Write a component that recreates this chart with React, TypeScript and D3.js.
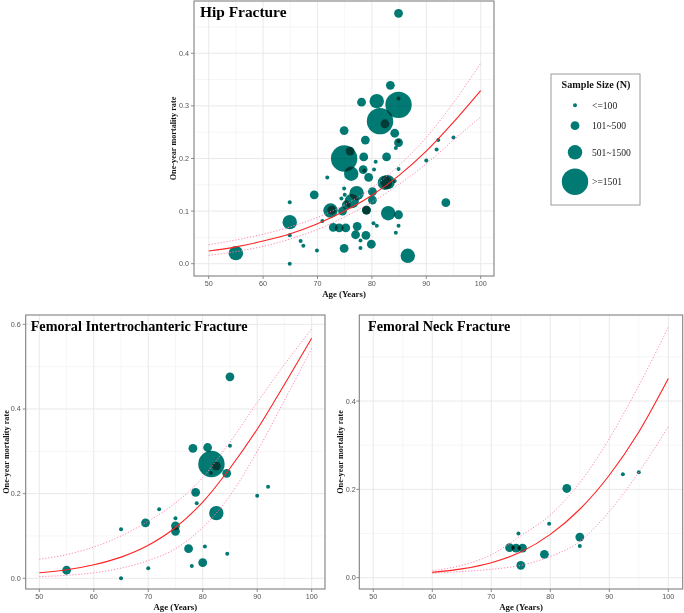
import React from 'react';
import * as d3 from 'd3';

// ---------- data ----------
const sizeClasses = ['<=100', '101~500', '501~1500', '>=1501'];

// [age, one-year mortality rate, sample-size class index]
const hipPoints: [number, number, number][] = [
  [55.0, 0.020, 2], [64.9, 0.079, 2], [64.9, 0.117, 0], [64.9, 0.054, 0], [64.9, 0.000, 0],
  [66.9, 0.043, 0], [67.4, 0.034, 0], [69.9, 0.025, 0], [69.4, 0.131, 1], [70.9, 0.081, 0],
  [71.8, 0.164, 0], [72.4, 0.101, 2], [72.6, 0.102, 1], [74.9, 0.200, 3], [76.0, 0.214, 1],
  [76.2, 0.171, 2], [74.9, 0.143, 0], [74.4, 0.124, 0], [75.0, 0.131, 0], [74.6, 0.100, 1],
  [75.3, 0.112, 1], [72.9, 0.069, 1], [74.0, 0.068, 1], [75.2, 0.068, 1], [74.9, 0.029, 1],
  [76.3, 0.119, 2], [77.2, 0.134, 2], [77.3, 0.071, 1], [77.0, 0.055, 1], [77.9, 0.044, 0],
  [77.9, 0.030, 0], [78.9, 0.054, 1], [79.9, 0.037, 1], [79.0, 0.102, 1], [79.0, 0.102, 1],
  [80.3, 0.077, 0], [80.9, 0.072, 0], [83.0, 0.096, 2], [84.9, 0.093, 1], [84.9, 0.072, 0],
  [84.4, 0.059, 0], [86.6, 0.015, 2], [80.1, 0.137, 1], [80.1, 0.121, 1], [82.4, 0.154, 2],
  [82.9, 0.155, 2], [84.2, 0.157, 0], [79.4, 0.164, 1], [78.4, 0.179, 1], [78.6, 0.177, 0],
  [80.4, 0.179, 0], [84.9, 0.180, 0], [80.7, 0.194, 0], [78.5, 0.203, 1], [82.7, 0.203, 1],
  [90.0, 0.196, 0], [91.9, 0.217, 0], [92.2, 0.235, 0], [95.0, 0.240, 0], [93.6, 0.116, 1],
  [84.4, 0.220, 0], [84.9, 0.230, 1], [84.9, 0.233, 0], [78.8, 0.235, 1], [84.2, 0.248, 1],
  [74.9, 0.253, 1], [81.5, 0.271, 3], [82.4, 0.266, 1], [84.9, 0.302, 3], [84.9, 0.314, 0],
  [78.1, 0.307, 1], [80.9, 0.309, 2], [83.4, 0.339, 1], [84.9, 0.476, 1],
];

const itPoints: [number, number, number][] = [
  [55.0, 0.019, 1], [65.0, 0.116, 0], [65.0, 0.000, 0], [69.5, 0.131, 1], [70.0, 0.024, 0],
  [72.0, 0.163, 0], [75.0, 0.142, 0], [75.0, 0.124, 1], [75.0, 0.111, 1], [77.4, 0.070, 1],
  [78.0, 0.029, 0], [78.2, 0.307, 1], [78.7, 0.203, 1], [78.9, 0.177, 0], [80.0, 0.037, 1],
  [80.4, 0.075, 0], [80.9, 0.309, 1], [81.6, 0.270, 3], [82.5, 0.265, 1], [81.5, 0.249, 0],
  [82.5, 0.154, 2], [84.4, 0.248, 1], [84.5, 0.058, 0], [85.0, 0.476, 1], [85.0, 0.313, 0],
  [90.0, 0.195, 0], [92.0, 0.216, 0],
];

const neckPoints: [number, number, number][] = [
  [73.1, 0.068, 1], [74.2, 0.067, 1], [75.3, 0.067, 1], [73.7, 0.068, 0], [74.7, 0.067, 0],
  [74.6, 0.100, 0], [75.0, 0.028, 1], [79.0, 0.053, 1], [79.8, 0.122, 0], [82.8, 0.202, 1],
  [85.0, 0.092, 1], [85.0, 0.072, 0], [92.3, 0.234, 0], [95.0, 0.239, 0],
];

// fitted curve and confidence band
const hipCurveAge = [50, 55, 60, 65, 70, 75, 80, 85, 90, 95, 100];
const hipFit = [0.024, 0.032, 0.043, 0.057, 0.076, 0.100, 0.130, 0.168, 0.214, 0.269, 0.329];
const hipUpper = [0.036, 0.045, 0.056, 0.070, 0.088, 0.112, 0.144, 0.187, 0.240, 0.306, 0.381];
const hipLower = [0.016, 0.023, 0.033, 0.047, 0.065, 0.089, 0.117, 0.151, 0.190, 0.235, 0.279];

const itCurveAge = [50, 55, 60, 65, 70, 75, 80, 85, 90, 95, 100];
const itFit = [0.013, 0.020, 0.032, 0.050, 0.078, 0.120, 0.180, 0.260, 0.352, 0.458, 0.567];
const itUpper = [0.045, 0.056, 0.074, 0.100, 0.135, 0.178, 0.238, 0.322, 0.415, 0.505, 0.589];
const itLower = [0.004, 0.007, 0.013, 0.024, 0.042, 0.070, 0.120, 0.195, 0.300, 0.420, 0.543];

const neckCurveAge = [60, 65, 70, 75, 80, 85, 90, 95, 100];
const neckFit = [0.012, 0.020, 0.034, 0.058, 0.098, 0.155, 0.232, 0.330, 0.451];
const neckUpper = [0.016, 0.028, 0.052, 0.095, 0.142, 0.215, 0.315, 0.435, 0.567];
const neckLower = [0.010, 0.014, 0.019, 0.028, 0.048, 0.082, 0.150, 0.239, 0.342];

const xTicks = [50, 60, 70, 80, 90, 100];
const xMinor = [55, 65, 75, 85, 95];
const hipYTicks = [0, 0.1, 0.2, 0.3, 0.4];
const hipYMinor = [0.05, 0.15, 0.25, 0.35, 0.45];
const itYTicks = [0, 0.2, 0.4, 0.6];
const itYMinor = [0.1, 0.3, 0.5];
const neckYTicks = [0, 0.2, 0.4];
const neckYMinor = [0.1, 0.3, 0.5];

// ---------- styling ----------
const TEAL = '#027a74';
const SERIF = '"Liberation Serif", "Times New Roman", serif';
const SANS = '"Liberation Sans", Arial, sans-serif';
const radius = d3.scaleOrdinal<string, number>().domain(sizeClasses).range([2, 4.4, 7.2, 13.2]);

type Box = { x0: number; x1: number; y0: number; y1: number };

function Panel(props: {
  box: Box;
  xDomain: [number, number];
  yDomain: [number, number];
  yTicks: number[];
  yMinor: number[];
  points: [number, number, number][];
  curveAge: number[];
  fit: number[];
  upper: number[];
  lower: number[];
  title: string;
  titleDx: number;
  titleSize: number;
  yLabelDx: number;
  tickGap: number;
}) {
  const { box, xDomain, yDomain, yTicks, yMinor, points, curveAge, fit, upper, lower } = props;
  const x = d3.scaleLinear().domain(xDomain).range([box.x0, box.x1]);
  const y = d3.scaleLinear().domain(yDomain).range([box.y1, box.y0]);
  const line = d3
    .line<number>()
    .x((_, i) => x(curveAge[i]))
    .y((d) => y(d))
    .curve(d3.curveMonotoneX);
  const fmt = d3.format('.1f');
  const cx = (box.x0 + box.x1) / 2;
  const cy = (box.y0 + box.y1) / 2;
  return (
    <g>
      <rect x={box.x0} y={box.y0} width={box.x1 - box.x0} height={box.y1 - box.y0} fill="#fff" />
      {yMinor.filter((v) => v > yDomain[0] && v < yDomain[1]).map((v) => (
        <line key={'ym' + v} x1={box.x0} x2={box.x1} y1={y(v)} y2={y(v)} stroke="#f0f0f0" strokeWidth={0.6} />
      ))}
      {xMinor.map((v) => (
        <line key={'xm' + v} y1={box.y0} y2={box.y1} x1={x(v)} x2={x(v)} stroke="#f0f0f0" strokeWidth={0.6} />
      ))}
      {yTicks.map((v) => (
        <line key={'yg' + v} x1={box.x0} x2={box.x1} y1={y(v)} y2={y(v)} stroke="#e6e6e6" strokeWidth={0.9} />
      ))}
      {xTicks.map((v) => (
        <line key={'xg' + v} y1={box.y0} y2={box.y1} x1={x(v)} x2={x(v)} stroke="#e6e6e6" strokeWidth={0.9} />
      ))}
      {points.map((p, i) => (
        <circle
          key={'p' + i}
          cx={x(p[0])}
          cy={y(p[1])}
          r={radius(sizeClasses[p[2]])}
          fill={TEAL}
          style={{ mixBlendMode: 'multiply' }}
        />
      ))}
      <path d={line(upper) || ''} fill="none" stroke="#ff86b0" strokeWidth={1} strokeDasharray="1.2 1.8" />
      <path d={line(lower) || ''} fill="none" stroke="#ff86b0" strokeWidth={1} strokeDasharray="1.2 1.8" />
      <path d={line(fit) || ''} fill="none" stroke="#ff2222" strokeWidth={1.1} />
      <rect
        x={box.x0}
        y={box.y0}
        width={box.x1 - box.x0}
        height={box.y1 - box.y0}
        fill="none"
        stroke="#808080"
        strokeWidth={1.1}
      />
      {yTicks.map((v) => (
        <g key={'yt' + v}>
          <line x1={box.x0 - 3} x2={box.x0} y1={y(v)} y2={y(v)} stroke="#808080" strokeWidth={0.9} />
          <text
            x={box.x0 - props.tickGap}
            y={y(v)}
            textAnchor="end"
            dominantBaseline="central"
            fontFamily={SANS}
            fontSize={7.2}
            fill="#555"
          >
            {fmt(v)}
          </text>
        </g>
      ))}
      {xTicks.map((v) => (
        <g key={'xt' + v}>
          <line y1={box.y1} y2={box.y1 + 3} x1={x(v)} x2={x(v)} stroke="#808080" strokeWidth={0.9} />
          <text
            x={x(v)}
            y={box.y1 + 7.5}
            textAnchor="middle"
            dominantBaseline="central"
            fontFamily={SANS}
            fontSize={7.2}
            fill="#555"
          >
            {v}
          </text>
        </g>
      ))}
      <text
        x={cx}
        y={box.y1 + 17.5}
        textAnchor="middle"
        dominantBaseline="central"
        fontFamily={SERIF}
        fontWeight="bold"
        fontSize={8.8}
        fill="#111"
      >
        Age (Years)
      </text>
      <text
        transform={`translate(${box.x0 + props.yLabelDx},${cy}) rotate(-90)`}
        textAnchor="middle"
        dominantBaseline="central"
        fontFamily={SERIF}
        fontWeight="bold"
        fontSize={8.2}
        fill="#111"
      >
        One-year mortality rate
      </text>
      <text
        x={box.x0 + props.titleDx}
        y={box.y0 + 16}
        fontFamily={SERIF}
        fontWeight="bold"
        fontSize={props.titleSize}
        fill="#000"
      >
        {props.title}
      </text>
    </g>
  );
}

function Legend() {
  const ys = [105.3, 125.7, 152.3, 181.7];
  return (
    <g>
      <rect x={551} y={74} width={89} height={131} fill="#fff" stroke="#9a9a9a" strokeWidth={1} />
      <text x={596} y={87.5} textAnchor="middle" fontFamily={SERIF} fontWeight="bold" fontSize={10.2} fill="#111">
        Sample Size (N)
      </text>
      {sizeClasses.map((c, i) => (
        <g key={c}>
          <circle cx={575} cy={ys[i]} r={radius(c)} fill={TEAL} />
          <text x={592} y={ys[i]} dominantBaseline="central" fontFamily={SERIF} fontSize={9.6} fill="#222">
            {c}
          </text>
        </g>
      ))}
    </g>
  );
}

export default function App() {
  return (
    <svg
      width={684}
      height={613}
      style={{ position: 'absolute', left: 0, top: 0, display: 'block', background: '#fff' }}
    >
      <rect x={0} y={0} width={684} height={613} fill="#fff" />
      <Panel
        box={{ x0: 194, x1: 494, y0: 1, y1: 276 }}
        xDomain={[47.3, 102.45]}
        yDomain={[-0.0234, 0.4994]}
        yTicks={hipYTicks}
        yMinor={hipYMinor}
        points={hipPoints}
        curveAge={hipCurveAge}
        fit={hipFit}
        upper={hipUpper}
        lower={hipLower}
        title="Hip Fracture"
        titleDx={6}
        titleSize={15.4}
        yLabelDx={-21}
        tickGap={5}
      />
      <Panel
        box={{ x0: 25.7, x1: 325, y0: 315, y1: 589 }}
        xDomain={[47.5, 102.45]}
        yDomain={[-0.0253, 0.622]}
        yTicks={itYTicks}
        yMinor={itYMinor}
        points={itPoints}
        curveAge={itCurveAge}
        fit={itFit}
        upper={itUpper}
        lower={itLower}
        title="Femoral Intertrochanteric Fracture"
        titleDx={5}
        titleSize={14.2}
        yLabelDx={-19.5}
        tickGap={5}
      />
      <Panel
        box={{ x0: 359.3, x1: 682.7, y0: 315, y1: 589 }}
        xDomain={[47.63, 102.44]}
        yDomain={[-0.0256, 0.5948]}
        yTicks={neckYTicks}
        yMinor={neckYMinor}
        points={neckPoints}
        curveAge={neckCurveAge}
        fit={neckFit}
        upper={neckUpper}
        lower={neckLower}
        title="Femoral Neck Fracture"
        titleDx={8.7}
        titleSize={14.2}
        yLabelDx={-19}
        tickGap={3.5}
      />
      <Legend />
    </svg>
  );
}
